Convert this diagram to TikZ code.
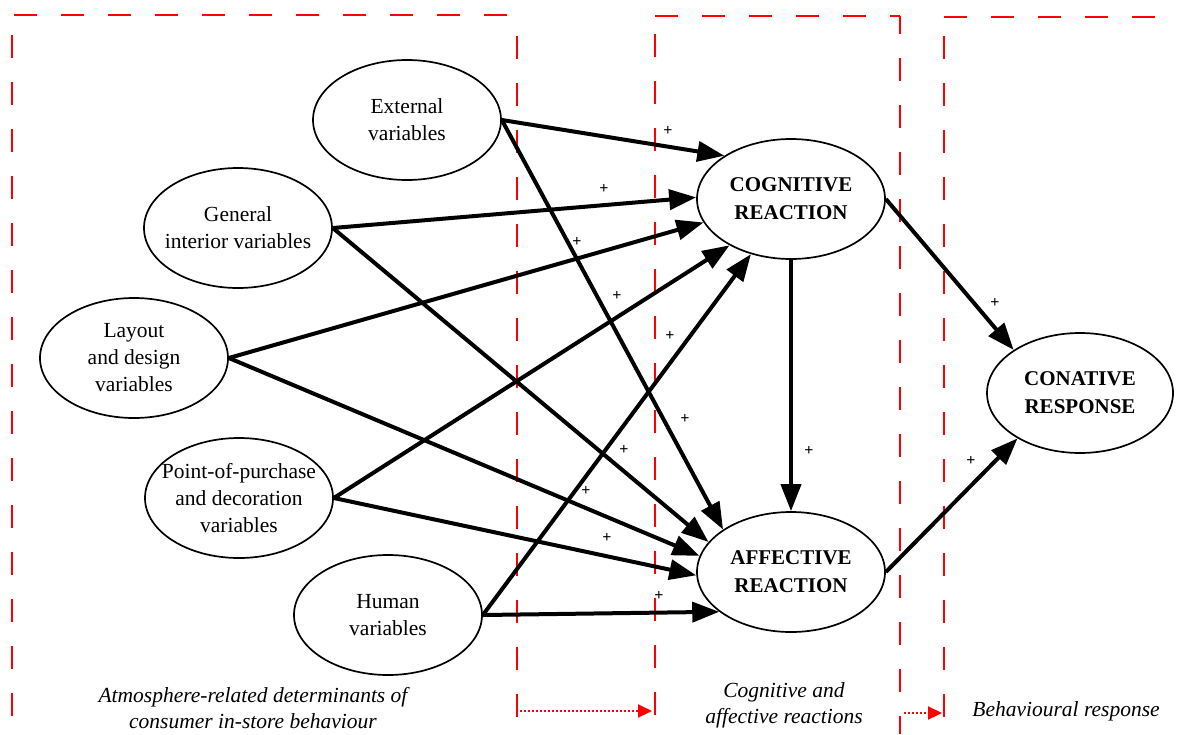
\documentclass[tikz,border=0pt]{standalone}
\usepackage{fontspec}
\setmainfont{Liberation Serif}
\usetikzlibrary{arrows.meta,shapes.geometric}
\begin{document}
\begin{tikzpicture}[x=1pt,y=-1pt,
  var/.style={ellipse,draw,line width=1.7pt,minimum width=188pt,minimum height=120pt,
    inner sep=-22pt,align=center,font=\fontsize{21.5}{27}\selectfont},
  react/.style={var,font=\fontsize{21}{28}\selectfont\bfseries},
  link/.style={line width=4pt,-{Triangle[length=27pt,width=20pt]}},
  sign/.style={font=\fontsize{16}{16}\selectfont\bfseries,inner sep=0pt},
  zone/.style={draw=red,line width=2.2pt,dash pattern=on 23pt off 24pt},
  flow/.style={draw=red,line width=2pt,dash pattern=on 2pt off 2pt,
    -{Triangle[length=14pt,width=13pt]}},
  caption/.style={align=center,font=\fontsize{21.5}{26}\selectfont\itshape}]
\useasboundingbox (0,0) rectangle (1177,734);

% dashed zones
\draw[zone] (14,15) -- (512,15);
\draw[zone] (12,35) -- (12,734);
\draw[zone] (517,36) -- (517,734);
\draw[zone] (655,16) -- (900,16);
\draw[zone] (655,34) -- (655,734);
\draw[zone,dash phase=5pt] (900,16) -- (900,734);
\draw[zone] (944,17) -- (1177,17);
\draw[zone] (944,36) -- (944,734);

% flow arrows between zones
\coordinate (f1s) at (520,711);
\coordinate (f1e) at (652,711);
\coordinate (f2s) at (904,713);
\coordinate (f2e) at (942,713);
\draw[flow] (f1s) -- (f1e);
\draw[flow] (f2s) -- (f2e);

% determinants
\node[var] (ext) at (407,120) {External\\variables};
\node[var] (gen) at (238,228) {General\\interior variables};
\node[var] (lay) at (134,358) {Layout\\and design\\variables};
\node[var] (pop) at (239,498) {Point-of-purchase\\and decoration\\variables};
\node[var] (hum) at (388,615) {Human\\variables};

% reactions and response
\node[react] (cog) at (791,199) {COGNITIVE\\REACTION};
\node[react] (aff) at (791,572) {AFFECTIVE\\REACTION};
\node[react,minimum width=186pt] (con) at (1080,393) {CONATIVE\\RESPONSE};

% paths
\draw[link] (ext.east) -- (cog.147);
\draw[link] (ext.east) -- (aff.148);
\draw[link] (gen.east) -- (cog.179);
\draw[link] (gen.east) -- (aff.160);
\draw[link] (lay.east) -- (cog.195);
\draw[link] (lay.east) -- (aff.170);
\draw[link] (pop.east) -- (cog.217);
\draw[link] (pop.east) -- (aff.182);
\draw[link] (hum.east) -- (cog.234);
\draw[link] (hum.east) -- (aff.209);
\draw[link] (cog.south) -- (aff.north);
\draw[link] (cog.east) -- (con.147);
\draw[link] (aff.east) -- (con.216);

% signs
\node[sign] (p1) at (668,131) {+};
\node[sign] (p2) at (604,189) {+};
\node[sign] (p3) at (577,242) {+};
\node[sign] (p4) at (617,296) {+};
\node[sign] (p5) at (670,336) {+};
\node[sign] (p6) at (685,419) {+};
\node[sign] (p7) at (624,450) {+};
\node[sign] (p8) at (586,491) {+};
\node[sign] (p9) at (607,538) {+};
\node[sign] (p10) at (659,596) {+};
\node[sign] (p11) at (809,451) {+};
\node[sign] (p12) at (995,303) {+};
\node[sign] (p13) at (971,461) {+};

% zone captions
\node[caption] (capA) at (253,708) {Atmosphere-related determinants of\\consumer in-store behaviour};
\node[caption] (capB) at (784,705) {Cognitive and\\affective reactions};
\node[caption] (capC) at (1066,711) {Behavioural response};
\end{tikzpicture}
\end{document}
